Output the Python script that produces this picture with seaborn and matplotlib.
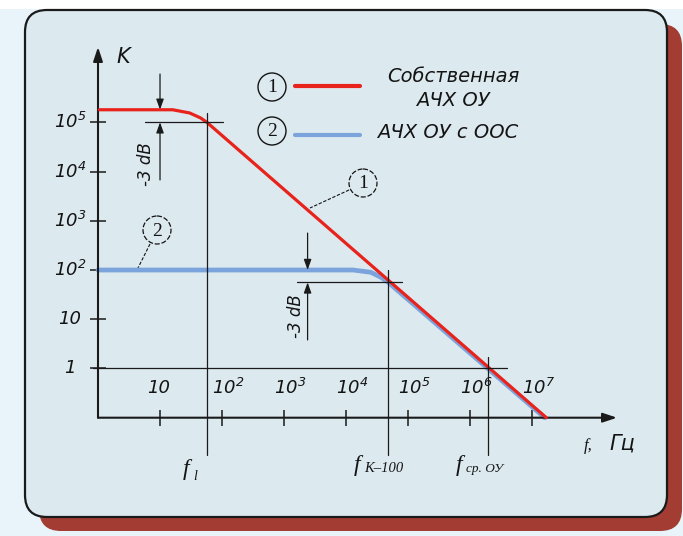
import matplotlib
matplotlib.use("Agg")
import matplotlib.pyplot as plt
import seaborn as sns
from matplotlib.patches import FancyBboxPatch, Circle, Rectangle
from matplotlib.ticker import NullLocator

# open-loop response of the op-amp (curve 1) and with feedback (curve 2)
freq_own = [1.05, 16, 30, 45, 57, 1.7e7]
gain_own = [1.8e5, 1.8e5, 1.55e5, 1.23e5, 1.0e5, 0.1]
freq_fb = [1, 1.3e4, 2.5e4, 3.6e4, 4.8e4, 1.6e7]
gain_fb = [100, 100, 90, 72, 56, 0.1]

gain_ticks = [1, 10, 1e2, 1e3, 1e4, 1e5]
gain_labels = ["1", "10", "$10^{2}$", "$10^{3}$", "$10^{4}$", "$10^{5}$"]
freq_ticks = [10, 1e2, 1e3, 1e4, 1e5, 1e6, 1e7]
freq_labels = ["10", "$10^{2}$", "$10^{3}$", "$10^{4}$", "$10^{5}$", "$10^{6}$", "$10^{7}$"]

f_l = 57        # -3 dB point of the open-loop curve
f_k100 = 4.8e4  # -3 dB point with feedback
f_cp = 1.95e6   # unity gain frequency

sns.set_theme(style="white")
plt.rcParams["font.family"] = ["DejaVu Sans"]
plt.rcParams["mathtext.fontset"] = "custom"
plt.rcParams["mathtext.rm"] = "DejaVu Sans:italic"
plt.rcParams["mathtext.it"] = "DejaVu Sans:italic"
plt.rcParams["mathtext.default"] = "it"

ink = "#141414"
fig = plt.figure(figsize=(6.83, 5.36), dpi=100, facecolor="#e8f4f9")

# background panel, in pixel coordinates
bg = fig.add_axes([0, 0, 1, 1], zorder=0)
bg.set_xlim(0, 683)
bg.set_ylim(536, 0)
bg.axis("off")
bg.add_patch(Rectangle((0, 0), 683, 9, fc="white", ec="none"))
bg.add_patch(FancyBboxPatch((39, 24), 643, 507, boxstyle="round,pad=0,rounding_size=22",
                            fc="#a33c33", ec="none"))
bg.add_patch(FancyBboxPatch((25, 10), 642, 507, boxstyle="round,pad=0,rounding_size=22",
                            fc="#dce9ef", ec="#1a1a1a", lw=1.6))

ax = fig.add_axes([98 / 683, (536 - 417.7) / 536, 519 / 683, 370.7 / 536], zorder=1)
ax.set_facecolor("none")
ax.set_xscale("log")
ax.set_yscale("log")
ax.set_xlim(1, 10 ** 8.37)
ax.set_ylim(0.1, 10 ** 6.53)
for s in ax.spines.values():
    s.set_visible(False)

sns.lineplot(x=freq_fb, y=gain_fb, ax=ax, color="#7ba3dc", lw=3.4, zorder=3, clip_on=False)
sns.lineplot(x=freq_own, y=gain_own, ax=ax, color="#e8231c", lw=2.3, zorder=4, clip_on=False)

# axes with arrows
arw = dict(arrowstyle="-|>,head_length=0.6,head_width=0.2", color="k", lw=1.5,
           mutation_scale=14, shrinkA=0, shrinkB=0)
ax.annotate("", xy=(10 ** 8.37, 0.1), xytext=(1, 0.1), arrowprops=arw, annotation_clip=False)
ax.annotate("", xy=(1, 10 ** 6.53), xytext=(1, 0.1), arrowprops=arw, annotation_clip=False)

ax.set_xticks(freq_ticks)
ax.set_yticks(gain_ticks)
ax.xaxis.set_minor_locator(NullLocator())
ax.yaxis.set_minor_locator(NullLocator())
ax.tick_params(axis="both", direction="inout", length=11, width=1.1, color="k",
               bottom=True, left=True, labelbottom=False, labelleft=False)

for f, lab in zip(freq_ticks, freq_labels):
    ax.text(f * (0.95 if f == 10 else 1.25), 0.4, lab, ha="center", va="center",
            fontsize=13, style="italic", color=ink)
for g, lab in zip(gain_ticks, gain_labels):
    ax.text(-0.054, g, lab, transform=ax.get_yaxis_transform(), ha="center", va="center",
            fontsize=13, style="italic", color=ink)

# construction lines
thin = dict(color="k", lw=0.9, clip_on=False, zorder=5)
ax.plot([5.7, 104], [1e5, 1e5], **thin)
ax.plot([f_l, f_l], [10 ** 5.19, 0.0174], **thin)
ax.plot([1.6e3, 7.9e4], [56, 56], **thin)
ax.plot([f_k100, f_k100], [100, 0.0174], **thin)
ax.plot([0.83, 4e6], [1, 1], **thin)
ax.plot([f_cp, f_cp], [1.7, 0.0174], **thin)

dim = dict(arrowstyle="-|>,head_length=0.7,head_width=0.25", color="k", lw=0.9,
           mutation_scale=9, shrinkA=0, shrinkB=0)
ax.annotate("", xy=(10, 1.8e5), xytext=(10, 10 ** 5.98), arrowprops=dim)
ax.annotate("", xy=(10, 1e5), xytext=(10, 10 ** 3.83), arrowprops=dim)
ax.annotate("", xy=(2.4e3, 100), xytext=(2.4e3, 10 ** 2.75), arrowprops=dim)
ax.annotate("", xy=(2.4e3, 56), xytext=(2.4e3, 10 ** 0.58), arrowprops=dim)
ax.text(6.0, 10 ** 4.15, "-3 dB", rotation=90, ha="center", va="center",
        fontsize=12, style="italic", color=ink)
ax.text(10 ** 3.19, 10 ** 1.06, "-3 dB", rotation=90, ha="center", va="center",
        fontsize=12, style="italic", color=ink)

ax.text(116, 57, "K", transform=bg.transData, ha="left", va="center",
        fontsize=15, style="italic", color=ink)

# axis name and frequency labels, pixel positions
bg.text(584, 446, "f,", family="Liberation Serif", style="italic", fontsize=12,
        ha="left", va="center", color=ink, zorder=6)
bg.text(609, 444, "Гц", style="italic", fontsize=15, ha="left", va="center",
        color=ink, zorder=6)
serif = dict(family="Liberation Serif", style="italic", color=ink, zorder=6)
bg.text(183, 470, "f", fontsize=17, ha="left", va="center", **serif)
bg.text(193, 476, "l", fontsize=10, ha="left", va="center", **serif)
bg.text(354, 465, "f", fontsize=17, ha="left", va="center", **serif)
bg.text(364, 469, "K\u2013100", fontsize=10.5, ha="left", va="center", **serif)
bg.text(456, 465, "f", fontsize=17, ha="left", va="center", **serif)
bg.text(466, 469, "ср. ОУ", fontsize=9.5, ha="left", va="center", **serif)

# legend
bg.add_patch(Circle((272, 87), 14, fc="none", ec=ink, lw=1.0, zorder=6))
bg.text(272, 88, "1", family="Liberation Serif", fontsize=14, ha="center", va="center",
        color=ink, zorder=6)
bg.add_patch(Circle((272, 131), 14, fc="none", ec=ink, lw=1.0, zorder=6))
bg.text(272, 132, "2", family="Liberation Serif", fontsize=14, ha="center", va="center",
        color=ink, zorder=6)
bg.plot([295, 360], [86, 86], color="#e8231c", lw=3.0, zorder=6)
bg.plot([295, 360], [135, 135], color="#7ba3dc", lw=3.0, zorder=6)
bg.text(453, 76, "Собственная", style="italic", fontsize=14, ha="center", va="center",
        color=ink, zorder=6)
bg.text(453, 101, "АЧХ ОУ", style="italic", fontsize=14, ha="center", va="center",
        color=ink, zorder=6)
bg.text(377, 133, "АЧХ ОУ с ООС", style="italic", fontsize=14, ha="left", va="center",
        color=ink, zorder=6)

# callouts on the curves
for cx, cy, num, x0, y0, x1, y1 in [(157, 230, "2", 150, 244, 137, 270),
                                    (363, 183, "1", 349, 190, 310, 208)]:
    bg.add_patch(Circle((cx, cy), 14, fc="none", ec=ink, lw=0.9, ls=(0, (4, 1.5)), zorder=6))
    bg.text(cx, cy + 1, num, family="Liberation Serif", fontsize=14, ha="center",
            va="center", color=ink, zorder=6)
    bg.plot([x0, x1], [y0, y1], color=ink, lw=0.8, ls=(0, (3, 1.5)), zorder=6)

fig.savefig("out.png", dpi=100, facecolor=fig.get_facecolor())
